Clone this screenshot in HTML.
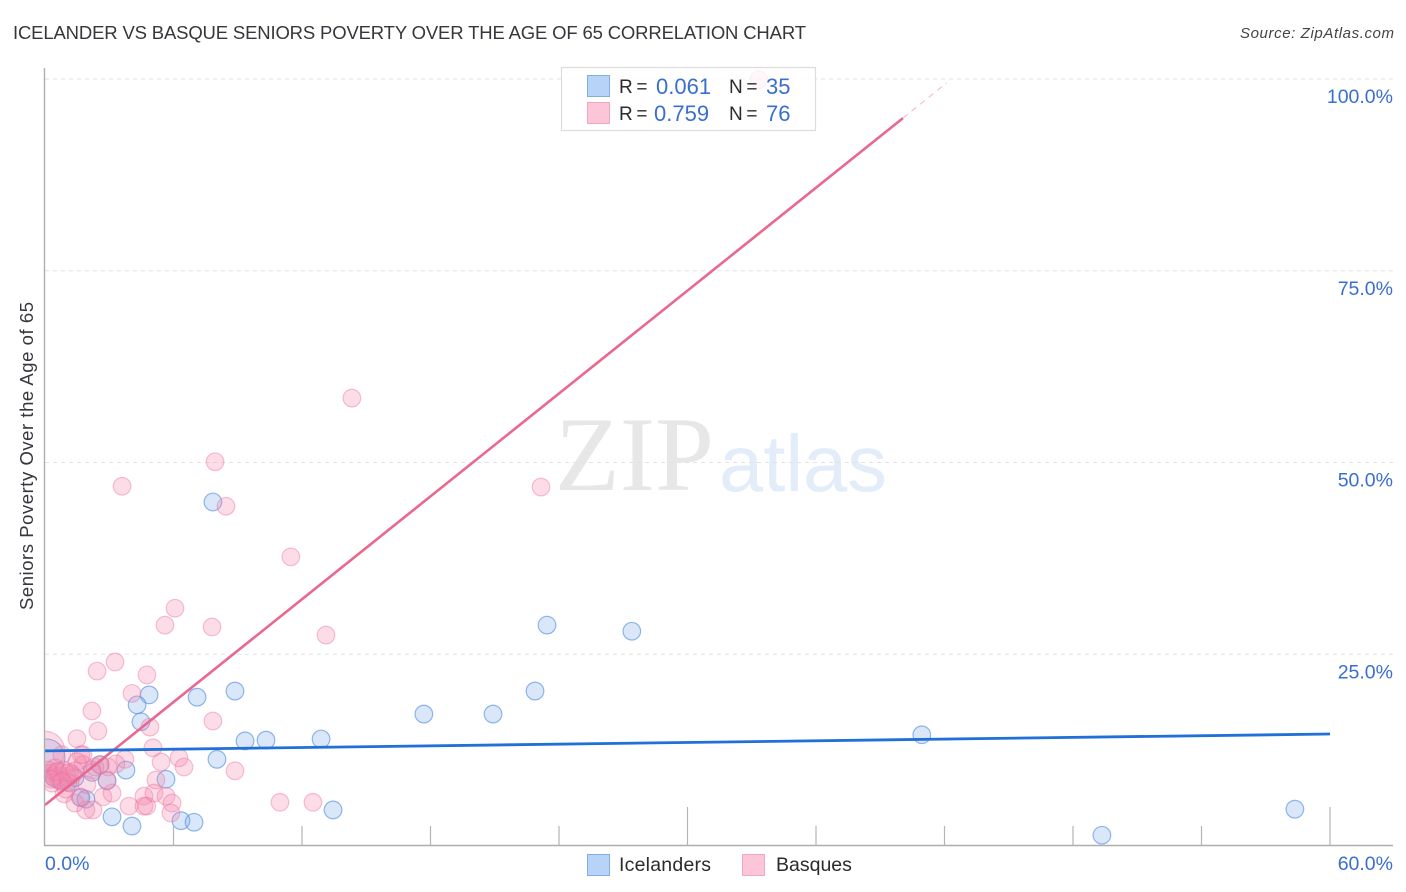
<!DOCTYPE html>
<html lang="en">
<head>
<meta charset="utf-8">
<title>Icelander vs Basque Seniors Poverty Correlation Chart</title>
<style>
html,body{margin:0;padding:0;background:#fff;width:1406px;height:892px;overflow:hidden}
svg{display:block;font-family:"Liberation Sans",sans-serif}
</style>
</head>
<body>
<svg id="chart" width="1406" height="892" viewBox="0 0 1406 892" xmlns="http://www.w3.org/2000/svg">
  <text x="13" y="39" font-size="18.5" fill="#36373c" textLength="793" lengthAdjust="spacing">ICELANDER VS BASQUE SENIORS POVERTY OVER THE AGE OF 65 CORRELATION CHART</text>
  <text x="1394" y="38" font-size="15" font-style="italic" fill="#444" text-anchor="end" textLength="154" lengthAdjust="spacing">Source: ZipAtlas.com</text>
  <g>
    <text x="555" y="490" font-family="'Liberation Serif',serif" font-size="106" fill="#e7e7e7">ZIP</text>
    <text x="719" y="491" font-size="80" fill="#e3ecf9" textLength="168" lengthAdjust="spacingAndGlyphs">atlas</text>
  </g>
  <g id="grid"></g>
  <g id="marks"></g>
  <rect x="0" y="60" width="44.5" height="800" fill="#fff"/>
  <text transform="translate(33,456) rotate(-90)" font-size="18.5" fill="#36373c" text-anchor="middle" textLength="308" lengthAdjust="spacing">Seniors Poverty Over the Age of 65</text>
  <g id="trends"></g>
  <g id="axes"></g>

  <g>
    <rect x="561.5" y="67.5" width="254" height="63" fill="#fff" fill-opacity="0.78" stroke="#dcdcdc" stroke-width="1.2"/>
    <rect x="587.5" y="75.5" width="22" height="21" fill="#b7d3f7" stroke="#80aee6"/>
    <text x="619" y="93" font-size="19" fill="#2b2b2b" textLength="28.5" lengthAdjust="spacing">R =</text>
    <text x="656" y="94" font-size="22" fill="#3a6fd0">0.061</text>
    <text x="729" y="93" font-size="19" fill="#2b2b2b" textLength="28.5" lengthAdjust="spacing">N =</text>
    <text x="766" y="94" font-size="22" fill="#3a6fd0">35</text>
    <rect x="587.5" y="102.5" width="22" height="21" fill="#fcc6d8" stroke="#f3a6c0"/>
    <text x="619" y="120" font-size="19" fill="#2b2b2b" textLength="28.5" lengthAdjust="spacing">R =</text>
    <text x="654" y="121" font-size="22" fill="#3a6fd0">0.759</text>
    <text x="729" y="120" font-size="19" fill="#2b2b2b" textLength="28.5" lengthAdjust="spacing">N =</text>
    <text x="766" y="121" font-size="22" fill="#3a6fd0">76</text>
  </g>

  <g>
    <rect x="587.5" y="854.5" width="22" height="21" fill="#b7d3f7" stroke="#80aee6"/>
    <text x="619" y="871" font-size="19.5" fill="#2b2b2b" textLength="92" lengthAdjust="spacing">Icelanders</text>
    <rect x="742.5" y="854.5" width="22" height="21" fill="#fcc6d8" stroke="#f3a6c0"/>
    <text x="776" y="871" font-size="19.5" fill="#2b2b2b">Basques</text>
  </g>
</svg>
<script>
const xTickValues = [6, 12, 18, 24, 30, 36, 42, 48, 54, 60];
const yGridValues = [25, 50, 75, 100];
const yTickLabels = ["25.0%", "50.0%", "75.0%", "100.0%"];
const xEndLabels = ["0.0%", "60.0%"];

const icelanderX = [0.05, 7.84, 23.44, 27.4, 4.86, 7.1, 8.87, 22.88, 4.3, 4.48, 17.69, 20.92, 9.34, 10.32, 12.89, 40.94, 8.03, 3.78, 5.65, 2.9, 2.57, 2.2, 1.68, 1.91, 3.13, 4.06, 6.35, 6.96, 13.45, 49.35, 58.36, 0.42, 0.7, 1.07, 1.4];
const icelanderY = [11.5, 44.85, 28.8, 28.0, 19.7, 19.4, 20.2, 20.2, 18.4, 16.2, 17.2, 17.2, 13.7, 13.8, 13.95, 14.5, 11.3, 9.9, 8.7, 8.5, 10.6, 9.6, 6.3, 6.1, 3.8, 2.6, 3.3, 3.1, 4.7, 1.4, 4.8, 8.9, 8.6, 8.3, 8.9];
const icelanderWeight = [4.6, 1, 1, 1, 1, 1, 1, 1, 1, 1, 1, 1, 1, 1, 1, 1, 1, 1, 1, 1, 1, 1, 1, 1, 1, 1, 1, 1, 1, 1, 1, 1, 1, 1, 1];

const basqueX = [0.0, 33.33, 14.33, 7.94, 3.6, 8.45, 23.16, 11.48, 6.07, 5.6, 7.8, 13.12, 3.27, 2.43, 4.76, 4.06, 2.19, 4.9, 7.84, 2.47, 1.49, 5.04, 1.68, 5.42, 6.26, 6.49, 8.87, 5.18, 4.62, 5.09, 5.65, 5.93, 5.88, 3.92, 4.62, 4.75, 10.97, 12.51, 3.73, 3.31, 2.94, 2.57, 1.77, 1.77, 2.19, 1.49, 2.71, 3.13, 2.24, 1.91, 1.4, 0.89, 2.89, 1.63, 1.17, 1.03, 0.47, 0.23, 0.61, 0.79, 0.37, 0.51, 0.7, 0.89, 1.07, 1.26, 1.4, 0.33, 1.96, 0.98, 2.33, 0.15, 0.6, 0.28, 1.15, 0.8];
const basqueY = [12.4, 99.9, 58.4, 50.1, 46.9, 44.3, 46.8, 37.7, 31, 28.8, 28.55, 27.5, 24, 22.8, 22.3, 19.9, 17.6, 15.5, 16.3, 15, 14, 12.8, 11.9, 10.95, 11.5, 10.3, 9.8, 8.6, 6.5, 6.9, 6.5, 5.6, 4.3, 5.2, 5.2, 5.2, 5.7, 5.7, 11.3, 10.7, 10.3, 10.6, 11.9, 10.6, 9.9, 11, 6.4, 6.9, 4.7, 4.7, 5.6, 6.8, 8.6, 6.4, 8.2, 9.5, 10.2, 9.5, 8.6, 11.9, 9.1, 9.6, 9.1, 9.9, 8.9, 9.3, 9.8, 8.2, 8, 7.4, 10.3, 9.9, 9.7, 8.7, 9.6, 8.4];
const basqueWeight = [5, 1, 1, 1, 1, 1, 1, 1, 1, 1, 1, 1, 1, 1, 1, 1, 1, 1, 1, 1, 1, 1, 1, 1, 1, 1, 1, 1, 1, 1, 1, 1, 1, 1, 1, 1, 1, 1, 1, 1, 1, 1, 1, 1, 1, 1, 1, 1, 1, 1, 1, 1, 1, 1, 1, 1, 1, 1, 1, 1, 1, 1, 1, 1, 1, 1, 1, 1, 1, 1, 1, 1, 1, 1, 1, 1];

const icelanderTrendX = [0, 60];
const icelanderTrendY = [12.4, 14.6];
const basqueTrendX = [0, 40.06];
const basqueTrendY = [5.35, 94.9];
const basqueTrendExtX = [40.06, 42.1];
const basqueTrendExtY = [94.9, 99.5];

const NS = 'http://www.w3.org/2000/svg';
const scaleX = v => 45 + v * (1330 - 45) / 60;
const scaleY = v => 846 - v * (846 - 79) / 100;
const radius = w => 8.8 * Math.sqrt(w);
const grid = document.getElementById('grid');
const marks = document.getElementById('marks');
const trends = document.getElementById('trends');
const axes = document.getElementById('axes');

function make(tag, attrs, parent, text) {
  const el = document.createElementNS(NS, tag);
  for (const k in attrs) el.setAttribute(k, attrs[k]);
  if (text !== undefined) el.textContent = text;
  parent.appendChild(el);
  return el;
}

yGridValues.forEach((v, i) => {
  const line = make('line', {x1: 45, x2: 1393, y1: scaleY(v), y2: scaleY(v), stroke: '#e2e2e2', 'stroke-width': 1, 'stroke-dasharray': '4 4'}, grid);
  
  
  const label = make('text', {x: 1393, y: scaleY(v) + 24, 'font-size': 19.5, fill: '#3a6fd0', 'text-anchor': 'end'}, axes, yTickLabels[i]);
  
  
});

icelanderX.forEach((v, i) => {
  const c = make('circle', {cx: scaleX(v), cy: scaleY(icelanderY[i]), r: radius(icelanderWeight[i]), fill: 'rgba(120,170,235,0.28)', stroke: 'rgba(80,140,225,0.62)', 'stroke-width': 1.2}, marks);
  
  
});
basqueX.forEach((v, i) => {
  const c = make('circle', {cx: scaleX(v), cy: scaleY(basqueY[i]), r: radius(basqueWeight[i]), fill: 'rgba(245,140,175,0.3)', stroke: 'rgba(235,110,155,0.42)', 'stroke-width': 1.2}, marks);
  
  
});

const basqueLine = make('line', {x1: scaleX(basqueTrendX[0]), y1: scaleY(basqueTrendY[0]), x2: scaleX(basqueTrendX[1]), y2: scaleY(basqueTrendY[1]), stroke: '#e8688f', 'stroke-width': 2.6}, trends);


const basqueExt = make('line', {x1: scaleX(basqueTrendExtX[0]), y1: scaleY(basqueTrendExtY[0]), x2: scaleX(basqueTrendExtX[1]), y2: scaleY(basqueTrendExtY[1]), stroke: '#f4b4c8', 'stroke-width': 1, 'stroke-dasharray': '6 5'}, trends);


const iceLine = make('line', {x1: scaleX(icelanderTrendX[0]), y1: scaleY(icelanderTrendY[0]), x2: scaleX(icelanderTrendX[1]), y2: scaleY(icelanderTrendY[1]), stroke: '#2070d8', 'stroke-width': 2.8}, trends);



const yAxisLine = make('line', {x1: 44.5, x2: 44.5, y1: 68, y2: 846, stroke: '#aeaeae', 'stroke-width': 1.4}, axes);


const xAxisLine = make('line', {x1: 44, x2: 1393, y1: 845.5, y2: 845.5, stroke: '#aeaeae', 'stroke-width': 1.4}, axes);



xTickValues.forEach((v, i) => {
  const top = (i + 1) % 5 === 0 ? 807 : 826;
  const t = make('line', {x1: scaleX(v), x2: scaleX(v), y1: top, y2: 846, stroke: '#b4b4b4', 'stroke-width': 1.2}, axes);
  
  
});

const xStart = make('text', {x: 45, y: 870, 'font-size': 19.5, fill: '#3a6fd0'}, axes, xEndLabels[0]);


const xEnd = make('text', {x: 1393, y: 870, 'font-size': 19.5, fill: '#3a6fd0', 'text-anchor': 'end'}, axes, xEndLabels[1]);


</script>
</body>
</html>
